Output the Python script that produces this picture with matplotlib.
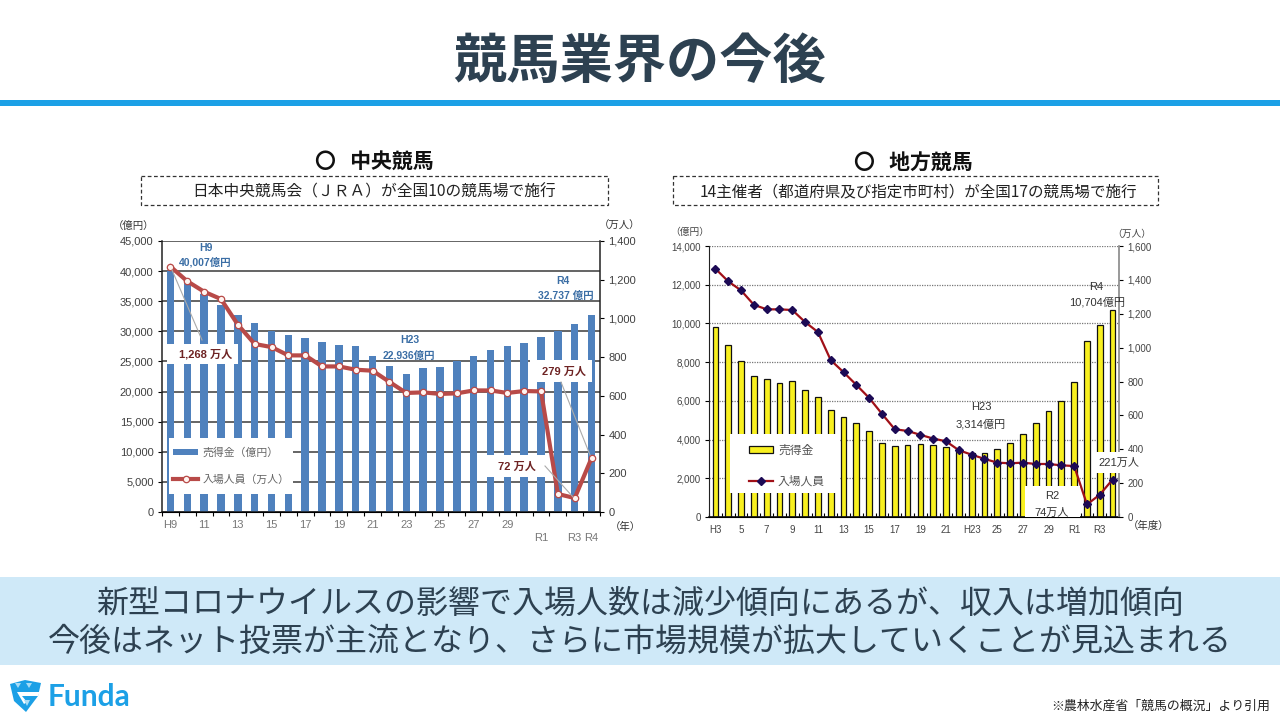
import matplotlib
matplotlib.use("Agg")
import matplotlib.pyplot as plt
from matplotlib.lines import Line2D
from matplotlib.patches import Patch, Polygon, Rectangle

plt.rcParams["font.family"] = ["Liberation Sans", "Noto Sans CJK JP", "DejaVu Sans"]

CJK = ["Noto Sans CJK JP", "DejaVu Sans"]
NAVY = "#2d4151"

# ------------------------------------------------------------
# central racing (JRA), H9 .. R4
# ------------------------------------------------------------
jra_sales = [40007, 38190, 36250, 34300, 32650, 31380, 30050, 29450, 28950,
             28170, 27670, 27560, 25960, 24240, 22936, 23960, 24080, 25070,
             25850, 26850, 27560, 28060, 29060, 30000, 31160, 32737]
jra_visitors = [1268, 1192, 1138, 1100, 968, 868, 852, 809, 809, 752, 752,
                735, 730, 672, 615, 618, 610, 613, 628, 628, 615, 625, 623,
                93, 72, 279]
jra_xlabels = ["H9", "", "11", "", "13", "", "15", "", "17", "", "19", "",
               "21", "", "23", "", "25", "", "27", "", "29", "", "\nR1", "",
               "\nR3", "\nR4"]
jra_sales_ticks = [0, 5000, 10000, 15000, 20000, 25000, 30000, 35000, 40000, 45000]
jra_visitor_ticks = [0, 200, 400, 600, 800, 1000, 1200, 1400]

# ------------------------------------------------------------
# local racing, H3 .. R4
# ------------------------------------------------------------
nar_sales = [9827, 8862, 8034, 7293, 7120, 6948, 7051, 6568, 6224, 5534, 5189,
             4879, 4431, 3845, 3672, 3741, 3776, 3741, 3603, 3450, 3314, 3310,
             3534, 3845, 4310, 4862, 5500, 6017, 6982, 9103, 9896, 10704]
nar_visitors = [1466, 1391, 1338, 1253, 1226, 1226, 1222, 1151, 1092, 926, 855,
                780, 703, 609, 518, 508, 485, 463, 447, 394, 368, 343, 321,
                317, 321, 313, 313, 305, 301, 74, 132, 221]
nar_xlabels = ["H3", "", "5", "", "7", "", "9", "", "11", "", "13", "", "15", "",
               "17", "", "19", "", "21", "", "H23", "", "25", "", "27", "", "29",
               "", "R1", "", "R3", ""]
nar_sales_ticks = [0, 2000, 4000, 6000, 8000, 10000, 12000, 14000]
nar_visitor_ticks = [0, 200, 400, 600, 800, 1000, 1200, 1400, 1600]

message_lines = [
    "新型コロナウイルスの影響で入場人数は減少傾向にあるが、収入は増加傾向",
    "今後はネット投票が主流となり、さらに市場規模が拡大していくことが見込まれる",
]


def px_axes(fig, x0, y0, x1, y1, **kwargs):
    return fig.add_axes(
        [x0 / 1280, 1 - y1 / 720, (x1 - x0) / 1280, (y1 - y0) / 720], **kwargs
    )


def draw_chart(ax, sales, visitors, xlabels, sales_ticks, visitor_ticks,
               bar_style, line_style, grid_style, tick_size, tick_color,
               xlabel_color, tick_dir):
    n = len(sales)
    xs = list(range(n))
    ax.bar(xs, sales, **bar_style)
    ax.set_xlim(-0.5, n - 0.5)
    ax.set_ylim(sales_ticks[0], sales_ticks[-1])
    ax.set_yticks(sales_ticks)
    ax.set_yticklabels([f"{v:,}" for v in sales_ticks], fontsize=tick_size, color=tick_color)
    ax.set_axisbelow(True)
    ax.grid(axis="y", **grid_style)

    ax.set_xticks(xs)
    ax.set_xticklabels(xlabels, fontsize=tick_size, color=xlabel_color, linespacing=1.35)
    ax.set_xticks([i - 0.5 for i in range(n + 1)], minor=True)
    ax.tick_params(axis="x", which="major", length=0, pad=6)
    ax.tick_params(axis="x", which="minor", length=3, direction=tick_dir, width=0.8)
    ax.tick_params(axis="y", length=3, width=0.8, pad=3)
    ax.spines["top"].set_visible(False)
    ax.spines["right"].set_visible(False)

    ax2 = ax.twinx()
    ax2.plot(xs, visitors, **line_style)
    ax2.set_ylim(visitor_ticks[0], visitor_ticks[-1])
    ax2.set_yticks(visitor_ticks)
    ax2.set_yticklabels([f"{v:,}" for v in visitor_ticks], fontsize=tick_size, color=tick_color)
    ax2.tick_params(axis="y", length=3, width=0.8, pad=3)
    ax2.spines["top"].set_visible(False)
    ax2.spines["left"].set_visible(False)
    return ax2


def main() -> None:
    fig = plt.figure(figsize=(12.8, 7.2), dpi=100, facecolor="white")

    # ============================================================
    # 1) Charts
    # ============================================================
    ax_jra = px_axes(fig, 162, 241, 600, 512, zorder=1)
    jra_bar = dict(width=0.44, color="#4f81bd")
    jra_line = dict(color="#b84a48", lw=3, marker="o", ms=4.6,
                    mfc="#fff4f0", mec="#b84a48", mew=0.9)
    ax2_jra = draw_chart(
        ax_jra, jra_sales, jra_visitors, jra_xlabels, jra_sales_ticks, jra_visitor_ticks,
        jra_bar, jra_line, dict(color="#3a3a3a", lw=1.1), 8, "#404040", "#777777", "out",
    )
    for spine in (ax_jra.spines["left"], ax_jra.spines["bottom"], ax2_jra.spines["right"]):
        spine.set_linewidth(1.1)
        spine.set_color("#222222")

    ax_nar = px_axes(fig, 709, 246, 1119, 517, zorder=1)
    nar_bar = dict(width=0.45, color="#f8f020", edgecolor="#111111", linewidth=0.9)
    nar_line = dict(color="#a01018", lw=1.6, marker="D", ms=4.2,
                    mfc="#1c0a55", mec="#1c0a55")
    ax2_nar = draw_chart(
        ax_nar, nar_sales, nar_visitors, nar_xlabels, nar_sales_ticks, nar_visitor_ticks,
        nar_bar, nar_line, dict(color="#777777", lw=0.9, ls=(0, (1, 1))), 7, "#444444",
        "#444444", "in",
    )
    ax_nar.spines["left"].set_color("#222222")
    ax_nar.spines["bottom"].set_color("#111111")
    ax_nar.spines["bottom"].set_linewidth(1.2)
    ax2_nar.spines["right"].set_color("#888888")
    ax2_nar.spines["right"].set_linewidth(1.2)

    # ============================================================
    # 2) Page overlay in pixel coordinates
    # ============================================================
    page = px_axes(fig, 0, 0, 1280, 720, zorder=5)
    page.set_xlim(0, 1280)
    page.set_ylim(720, 0)
    page.axis("off")

    def box(x0, y0, x1, y1, color="white", **kwargs):
        page.add_patch(Rectangle((x0, y0), x1 - x0, y1 - y0, facecolor=color, edgecolor="none", **kwargs))

    def label(x, y, s, size=8, color="#333333", weight="normal", ha="center", family=None):
        page.text(x, y, s, fontsize=size, color=color, fontweight=weight, ha=ha, va="center",
                  family=family or plt.rcParams["font.family"])

    box(0, 100, 1280, 106, "#1ca0e6")
    box(0, 577, 1280, 665, "#cfe9f8")
    label(640, 62, "競馬業界の今後", size=38.3, color=NAVY, weight="bold", family=CJK)
    label(640, 604, message_lines[0], size=23, color=NAVY, family=CJK)
    label(640, 642, message_lines[1], size=23, color=NAVY, family=CJK)
    label(1270, 706, "※農林水産省「競馬の概況」より引用", size=9.3, color="#222222", ha="right", family=CJK)

    # logo
    page.add_patch(Polygon([(10, 684), (25, 680), (41, 683), (38, 696), (26, 712), (14, 701)],
                           facecolor="#1ca0e6", edgecolor="none"))
    page.add_patch(Polygon([(17, 692), (40, 692), (38, 696), (22, 696), (27, 702), (24, 704)],
                           facecolor="white", edgecolor="none"))
    for tri in ([(15, 683), (21, 683), (18, 688)], [(26, 683), (32, 683), (29, 688)],
                [(24, 700), (30, 700), (27, 706)]):
        page.add_patch(Polygon(tri, facecolor="#a8dcf6", edgecolor="none"))
    label(48, 697, "Funda", size=21.5, color="#1ca0e6", weight="bold", ha="left", family=["Lato", "DejaVu Sans"])

    # headings
    label(374, 161, "〇   中央競馬", size=15, color="#111111", weight="bold", family=CJK)
    label(913, 162, "〇   地方競馬", size=15, color="#111111", weight="bold", family=CJK)
    for x0, x1 in ((141, 608), (673, 1158)):
        page.add_patch(Rectangle((x0, 176), x1 - x0, 29, facecolor="none", edgecolor="#333333",
                                 lw=0.9, ls=(0, (3, 2))))
    label(374, 192, "日本中央競馬会（ＪＲＡ）が全国10の競馬場で施行", size=11.3, color="#222222", family=CJK)
    label(918, 192, "14主催者（都道府県及び指定市町村）が全国17の競馬場で施行", size=11.2, color="#222222", family=CJK)

    # unit labels
    label(134, 226, "（億円）", size=7.5, color="#333333", family=CJK)
    label(620, 226, "（万人）", size=7.5, color="#333333", family=CJK)
    label(625, 527, "（年）", size=7.5, color="#333333", family=CJK)
    label(690, 232, "（億円）", size=7, color="#444444", family=CJK)
    label(1132, 234, "（万人）", size=7, color="#444444", family=CJK)
    label(1149, 526, "（年度）", size=7.5, color="#333333", family=CJK)

    # ============================================================
    # 3) White label boxes and callouts
    # ============================================================
    box(167, 344, 238, 364)
    box(169, 438, 293, 494)
    box(487, 455, 547, 477)
    box(530, 360, 592, 382)
    box(730, 434, 840, 493)
    box(1025, 486, 1080, 517)
    box(1096, 452, 1140, 473)

    for (x0, y0), (x1, y1) in (((172, 270), (202, 340)), ((545, 466), (573, 497)), ((561, 382), (590, 455))):
        page.plot([x0, x1], [y0, y1], color="#aaaaaa", lw=0.8)

    blue = "#3b6ea5"
    dark_red = "#6e2323"
    label(206, 248, "H9", size=7.5, color=blue, weight="bold")
    label(205, 262, "40,007億円", size=7.5, color=blue, weight="bold")
    label(206, 354, "1,268 万人", size=8, color=dark_red, weight="bold")
    label(410, 340, "H23", size=7.5, color=blue, weight="bold")
    label(409, 355, "22,936億円", size=7.5, color=blue, weight="bold")
    label(563, 281, "R4", size=7.5, color=blue, weight="bold")
    label(566, 295, "32,737 億円", size=7.5, color=blue, weight="bold")
    label(517, 467, "72 万人", size=8, color=dark_red, weight="bold")
    label(564, 372, "279 万人", size=8, color=dark_red, weight="bold")

    label(981, 407, "H23", size=8)
    label(981, 424, "3,314億円", size=8)
    label(1096, 287, "R4", size=8)
    label(1097, 302, "10,704億円", size=8)
    label(1052, 496, "R2", size=8)
    label(1052, 513, "74万人", size=8)
    label(1119, 463, "221万人", size=8)

    # ============================================================
    # 4) Legends
    # ============================================================
    nar_handles = [
        Patch(facecolor="#f8f020", edgecolor="#111111", linewidth=0.9),
        Line2D([], [], **nar_line),
    ]
    nar_legend = page.legend(nar_handles, ["売得金", "入場人員"], loc="upper left",
                             bbox_to_anchor=(745, 441), bbox_transform=page.transData, frameon=False,
                             fontsize=8.5, labelcolor="#555555", handlelength=2.1, handleheight=0.55,
                             labelspacing=1.6, handletextpad=0.4, borderpad=0.3, borderaxespad=0)
    page.add_artist(nar_legend)

    jra_handles = [
        Patch(facecolor="#4f81bd", edgecolor="none"),
        Line2D([], [], **jra_line),
    ]
    page.legend(jra_handles, ["売得金（億円）", "入場人員（万人）"], loc="upper left",
                bbox_to_anchor=(170, 444), bbox_transform=page.transData, frameon=False,
                fontsize=7.8, labelcolor="#666666", handlelength=2.3, handleheight=0.55,
                labelspacing=1.55, handletextpad=0.4, borderpad=0.3, borderaxespad=0)

    fig.savefig("out.png", dpi=100)
    plt.close(fig)


if __name__ == "__main__":
    main()
